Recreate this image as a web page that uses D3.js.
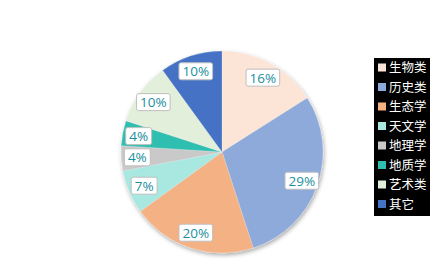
<!DOCTYPE html>
<html>
<head>
<meta charset="utf-8">
<script src="https://cdn.jsdelivr.net/npm/d3@7"></script>
<style>
  body { margin: 0; background: #fff; }
  svg { display: block; }
</style>
</head>
<body>
<div id="chart"></div>
<script>
// Data
const categories = ['生物类', '历史类', '生态学', '天文学', '地理学', '地质学', '艺术类', '其它'];
const values = [16, 29, 20, 7, 4, 4, 10, 10];
const colors = ['#fce4d6', '#8eaadb', '#f4b183', '#a9e8e1', '#c9c9c9', '#2fbfb0', '#e2efda', '#4472c4'];

const width = 439;
const height = 274;
const cx = 222, cy = 152;
const radius = 101;

const svg = d3.select('#chart')
    .append('svg')
    .attr('width', width)
    .attr('height', height);

// shadow under the pie
const defs = svg.append('defs');
defs.append('filter')
    .attr('id', 'shadow')
    .attr('x', '-20%').attr('y', '-20%')
    .attr('width', '140%').attr('height', '140%')
    .append('feDropShadow')
    .attr('dx', 1).attr('dy', 2)
    .attr('stdDeviation', 2)
    .attr('flood-color', '#000')
    .attr('flood-opacity', 0.35);

const g = svg.append('g')
    .attr('transform', `translate(${cx}, ${cy})`);

const data = categories.map((c, i) => ({ label: c, value: values[i], color: colors[i] }));

const pie = d3.pie().value(d => d.value).sort(null);
const arc = d3.arc().innerRadius(0).outerRadius(radius);
const labelArc = d3.arc().innerRadius(radius * 0.84).outerRadius(radius * 0.84);

const total = d3.sum(values);

g.append('g')
    .attr('filter', 'url(#shadow)')
    .selectAll('path')
    .data(pie(data))
    .enter()
    .append('path')
    .attr('d', arc)
    .attr('fill', d => d.data.color)
    .attr('stroke', '#f4f4f4')
    .attr('stroke-width', 0.25);

// data labels
const labels = g.selectAll('g.label')
    .data(pie(data))
    .enter()
    .append('g')
    .attr('class', 'label')
    .attr('transform', d => `translate(${labelArc.centroid(d)})`);

labels.each(function(d) {
    const lg = d3.select(this);
    const txt = lg.append('text')
        .attr('text-anchor', 'middle')
        .attr('dy', '0.36em')
        .attr('font-family', '"Open Sans", "Noto Sans", sans-serif')
        .attr('font-size', 13.5)
        .attr('fill', '#1b8f9e')
        .text(Math.round(d.data.value / total * 100) + '%');
    const bb = txt.node().getBBox();
    lg.insert('rect', 'text')
        .attr('x', bb.x - 3.5)
        .attr('y', -8.5)
        .attr('width', bb.width + 7)
        .attr('height', 17)
        .attr('rx', 2)
        .attr('fill', '#fff')
        .attr('stroke', '#bfbfbf')
        .attr('stroke-width', 1);
});

// legend
const legendX = 374, legendY = 58;
const rowH = 19.5;
const legend = svg.append('g')
    .attr('transform', `translate(${legendX}, ${legendY})`);

legend.append('rect')
    .attr('width', 56)
    .attr('height', 158)
    .attr('fill', '#000');

const items = legend.selectAll('g.item')
    .data(data)
    .enter()
    .append('g')
    .attr('class', 'item')
    .attr('transform', (d, i) => `translate(0, ${9.5 + i * rowH})`);

items.append('rect')
    .attr('x', 4)
    .attr('y', -4)
    .attr('width', 8)
    .attr('height', 8)
    .attr('fill', d => d.color);

items.append('text')
    .attr('x', 15)
    .attr('dy', '0.36em')
    .attr('font-family', '"Noto Sans CJK SC", sans-serif')
    .attr('font-size', 12.5)
    .attr('fill', '#fff')
    .text(d => d.label);
</script>
</body>
</html>
